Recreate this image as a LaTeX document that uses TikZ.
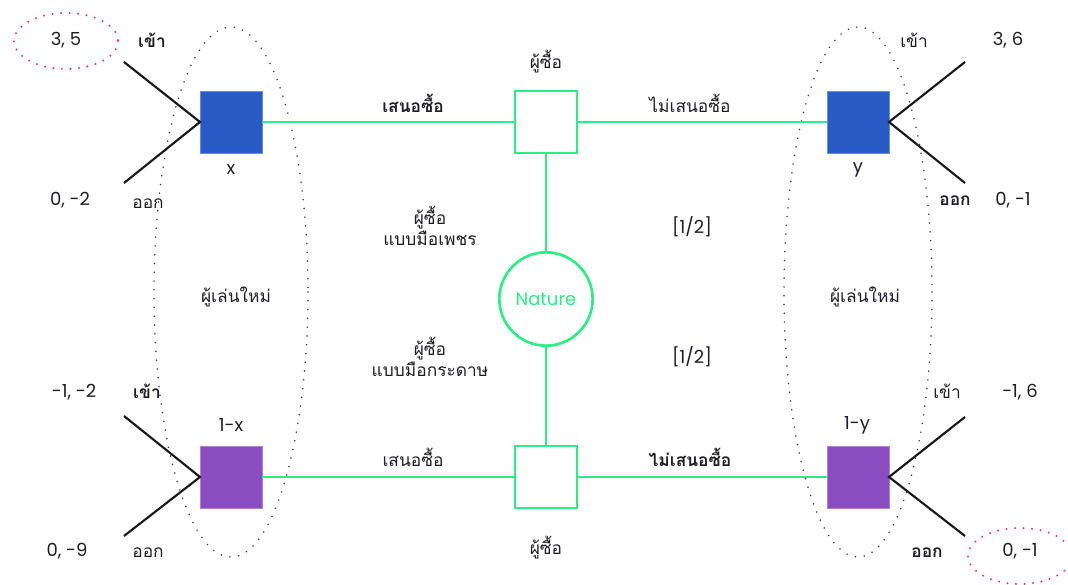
\documentclass[tikz,border=0pt]{standalone}
\usepackage{fontspec}
\setmainfont{Poppins}
\newfontfamily\thai[Script=Thai]{Loma}
\definecolor{gblue}{HTML}{285BC5}
\definecolor{gpurple}{HTML}{8A4DC1}
\definecolor{ggreen}{HTML}{2BEE85}
\definecolor{gtext}{HTML}{1E1E26}
\definecolor{gred}{HTML}{EA3A6E}
\begin{document}
\begin{tikzpicture}[x=0.75pt,y=-0.75pt,
  every node/.style={text=gtext,font=\fontsize{13.5}{16}\selectfont},
  th/.style={font=\thai\fontsize{13}{16}\selectfont},
  thb/.style={font=\thai\bfseries\fontsize{13}{16}\selectfont},
  sq/.style={minimum size=46.5pt,inner sep=0pt,outer sep=0pt},
  bluesq/.style={sq,fill=gblue,draw=gblue!70!white,line width=0.5pt},
  purplesq/.style={sq,fill=gpurple,draw=gpurple!70!white,line width=0.5pt},
  chsq/.style={sq,draw=ggreen,line width=2pt,fill=white},
  gline/.style={draw=ggreen,line width=2pt},
  bline/.style={draw=black!90,line width=1.6pt},
  dotell/.style={draw=black!75,line width=1.3pt,line cap=round,dash pattern=on 0pt off 6.6pt},
  redell/.style={draw=gred,line width=1.7pt,line cap=round,dash pattern=on 0pt off 6.4pt},
]
\useasboundingbox (0,0) rectangle (1068,585);
% dotted ellipses
\draw[dotell] (231,292) ellipse [x radius=77,y radius=265];
\draw[dotell] (858,292) ellipse [x radius=74,y radius=265];
\draw[redell] (66,41) ellipse [x radius=52,y radius=28];
\begin{scope}
\clip (0,0) rectangle (1068,585);
\draw[redell] (1020,556) ellipse [x radius=52,y radius=28];
\end{scope}

% squares
\node[bluesq] (x) at (231,122) {};
\node[purplesq] (xx) at (231,477) {};
\node[bluesq] (y) at (858,122) {};
\node[purplesq] (yy) at (858,477) {};
\node[chsq] (b1) at (546,122) {};
\node[chsq] (b2) at (546,477) {};
\node[circle,draw=ggreen,line width=2pt,minimum size=70pt,inner sep=0pt,text=ggreen] (nat) at (546,299) {Nature};

% green connectors
\draw[gline] (x.east) -- (b1.west);
\draw[gline] (b1.east) -- (y.west);
\draw[gline] (xx.east) -- (b2.west);
\draw[gline] (b2.east) -- (yy.west);
\draw[gline] (b1.south) -- (nat.north);
\draw[gline] (nat.south) -- (b2.north);

% black branches
\coordinate (xa) at (124,62); \coordinate (xb) at (124,183);
\coordinate (xxa) at (124,416); \coordinate (xxb) at (124,536);
\coordinate (ya) at (965,62); \coordinate (yb) at (965,183);
\coordinate (yya) at (965,417); \coordinate (yyb) at (965,536);
\draw[bline] (xa) -- (x.west) -- (xb);
\draw[bline] (xxa) -- (xx.west) -- (xxb);
\draw[bline] (ya) -- (y.east) -- (yb);
\draw[bline] (yya) -- (yy.east) -- (yyb);

% labels left top
\node (p1) at (66,40) {3, 5};
\node[thb] (t1) at (152,40) {เข้า};
\node (p2) at (70,200) {0, -2};
\node[th] (t2) at (148,204) {ออก};
\node (lx) at (231,170) {x};
% labels left bottom
\node (p3) at (74,392) {-1, -2};
\node[thb] (t3) at (147,391) {เข้า};
\node (lxx) at (231,425) {1-x};
\node (p4) at (67,551) {0, -9};
\node[th] (t4) at (148,553) {ออก};
% right top
\node[th] (t5) at (914,40) {เข้า};
\node (p5) at (1008,40) {3, 6};
\node (ly) at (858,170) {y};
\node[thb] (t6) at (955,201) {ออก};
\node (p6) at (1013,200) {0, -1};
% right bottom
\node[th] (t7) at (947,391) {เข้า};
\node (p7) at (1020,392) {-1, 6};
\node (lyy) at (857,425) {1-y};
\node[thb] (t8) at (927,553) {ออก};
\node (p8) at (1020,551) {0, -1};

% centre labels
\node[th] (b1l) at (546,62) {ผู้ซื้อ};
\node[thb] (e1) at (413,103) {เสนอซื้อ};
\node[th] (e2) at (690,103) {ไม่เสนอซื้อ};
\node[th] (e3) at (413,457) {เสนอซื้อ};
\node[thb] (e4) at (690,457) {ไม่เสนอซื้อ};
\node[th] (b2l) at (546,548) {ผู้ซื้อ};
\node[th,align=center] (ty1) at (430,226) {ผู้ซื้อ\\แบบมือเพชร};
\node[th,align=center] (ty2) at (430,357) {ผู้ซื้อ\\แบบมือกระดาษ};
\node (pr1) at (692,227) {[1/2]};
\node (pr2) at (692,357) {[1/2]};
\node[th] (n1) at (236,297) {ผู้เล่นใหม่};
\node[th] (n2) at (865,297) {ผู้เล่นใหม่};
\end{tikzpicture}
\end{document}
